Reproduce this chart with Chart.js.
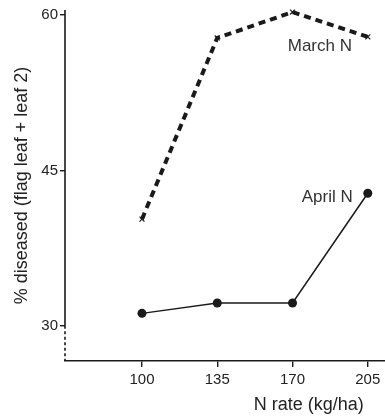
<!DOCTYPE html>
<html>
  <head>
    <script src="https://cdn.jsdelivr.net/npm/chart.js@4"></script>
    <style>
      body { margin: 0; background: #fff; }
    </style>
  </head>

  <body>
    <canvas id="canvas" width="385" height="417"></canvas>
    <script>
      // N rate (kg/ha) and % diseased (flag leaf + leaf 2)
      const nRates = [100, 135, 170, 205];
      const marchN = [40.3, 57.8, 60.3, 57.9];
      const aprilN = [31.2, 32.2, 32.2, 42.8];
      const yTicks = [30, 45, 60];

      const ink = '#1a1a1a';
      const font = 'Liberation Sans';

      const toPoints = (ys) => nRates.map((x, i) => ({ x: x, y: ys[i] }));

      // y axis is broken below 30: solid above, dashed below; plus series labels and x title
      const axisAndLabels = {
        id: 'axisAndLabels',
        afterDraw(chart) {
          const { ctx, chartArea, scales } = chart;
          const x = chartArea.left;
          const y30 = scales.y.getPixelForValue(30);
          ctx.save();
          ctx.strokeStyle = ink;
          ctx.lineWidth = 1.6;
          ctx.beginPath();
          ctx.moveTo(x, chartArea.top);
          ctx.lineTo(x, y30);
          ctx.stroke();
          ctx.setLineDash([3, 2.5]);
          ctx.beginPath();
          ctx.moveTo(x, y30);
          ctx.lineTo(x, chartArea.bottom);
          ctx.stroke();
          ctx.setLineDash([]);

          ctx.fillStyle = '#333';
          ctx.font = '17px "' + font + '"';
          ctx.textBaseline = 'middle';
          ctx.textAlign = 'center';
          ctx.fillText('March N', scales.x.getPixelForValue(182.7), scales.y.getPixelForValue(57.0));
          ctx.textAlign = 'right';
          ctx.fillText('April N', scales.x.getPixelForValue(198), scales.y.getPixelForValue(42.4));

          ctx.fillStyle = '#222';
          ctx.font = '18px "' + font + '"';
          ctx.textAlign = 'center';
          ctx.fillText('N rate (kg/ha)', scales.x.getPixelForValue(177.5), 405);
          ctx.restore();
        },
      };

      new Chart(document.getElementById('canvas').getContext('2d'), {
        type: 'line',
        data: {
          datasets: [
            {
              label: 'March N',
              data: toPoints(marchN),
              borderColor: ink,
              borderWidth: 4,
              borderDash: [7, 5],
              pointStyle: 'crossRot',
              pointRadius: 3.5,
              pointBorderWidth: 1.2,
              pointBorderColor: ink,
              pointBackgroundColor: ink,
              tension: 0,
              clip: false,
            },
            {
              label: 'April N',
              data: toPoints(aprilN),
              borderColor: ink,
              borderWidth: 1.5,
              pointStyle: 'circle',
              pointRadius: 4.5,
              pointBorderWidth: 0,
              pointBackgroundColor: ink,
              tension: 0,
              clip: false,
            },
          ],
        },
        options: {
          responsive: false,
          animation: false,
          layout: { autoPadding: false, padding: { top: 10, right: 0, bottom: 0, left: 0 } },
          plugins: {
            legend: { display: false },
            tooltip: { enabled: false },
          },
          scales: {
            x: {
              type: 'linear',
              min: 64.2,
              max: 213,
              afterBuildTicks: (scale) => {
                scale.ticks = nRates.map((v) => ({ value: v }));
              },
              afterFit: (scale) => {
                scale.height = 56;
                scale.paddingLeft = 0;
                scale.paddingRight = 0;
              },
              border: { display: true, color: ink, width: 1.6 },
              grid: { drawOnChartArea: false, tickLength: 6, color: ink, lineWidth: 1.4 },
              ticks: {
                color: '#222',
                padding: 4,
                font: { family: font, size: 15 },
              },
            },
            y: {
              type: 'linear',
              min: 26.6,
              max: 60.5,
              afterBuildTicks: (scale) => {
                scale.ticks = yTicks.map((v) => ({ value: v }));
              },
              afterFit: (scale) => {
                scale.width = 65;
                scale.paddingTop = 0;
                scale.paddingBottom = 0;
              },
              border: { display: false },
              grid: { drawOnChartArea: false, tickLength: 5, color: ink, lineWidth: 1.4 },
              ticks: {
                color: '#222',
                padding: 2,
                font: { family: font, size: 15 },
              },
              title: {
                display: true,
                text: '% diseased (flag leaf + leaf 2)',
                color: '#222',
                padding: { top: 11, bottom: 0 },
                font: { family: font, size: 18 },
              },
            },
          },
        },
        plugins: [axisAndLabels],
      });
    </script>
  </body>
</html>
